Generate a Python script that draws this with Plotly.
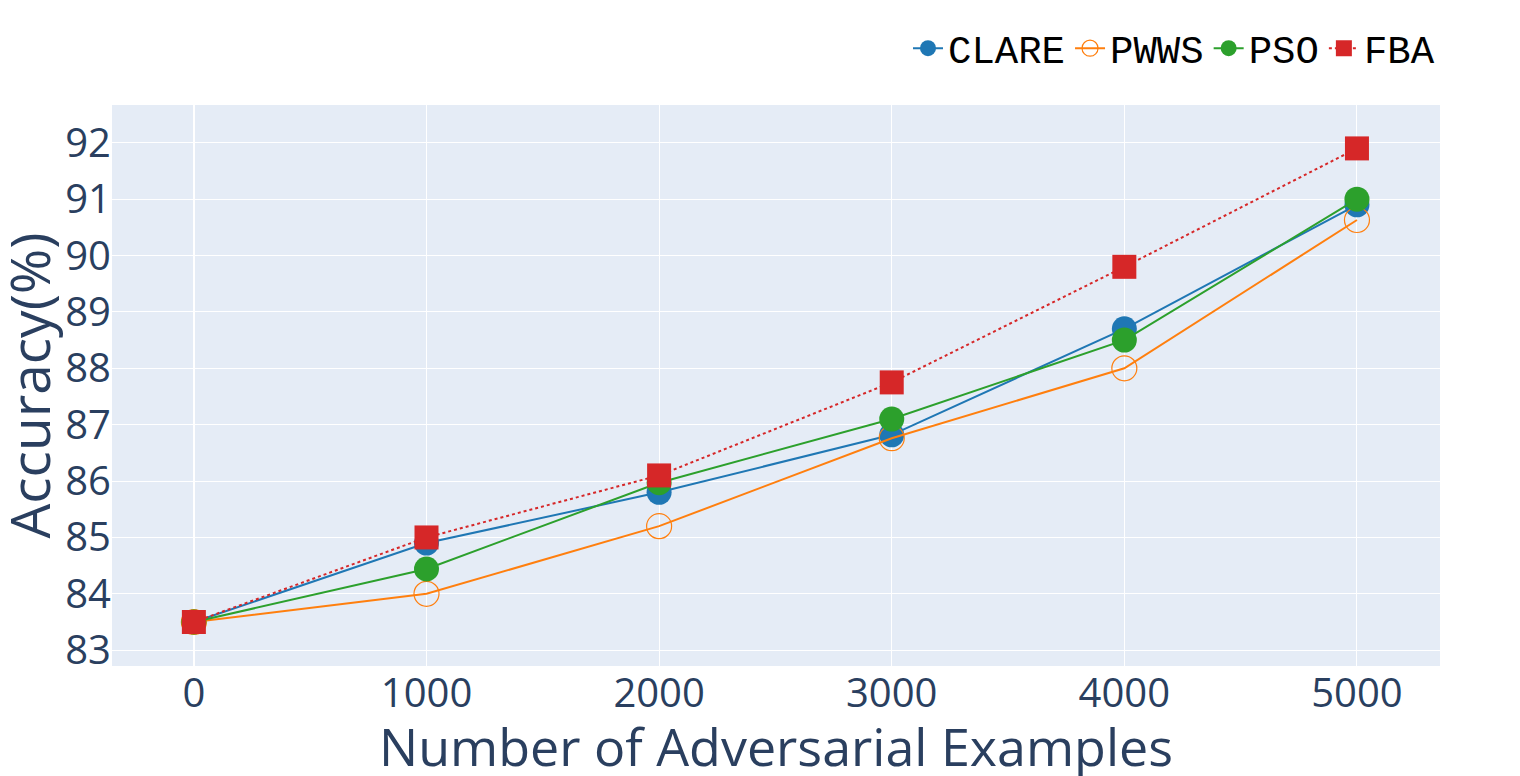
import plotly.graph_objects as go

x_vals = [0, 1000, 2000, 3000, 4000, 5000]
clare = [83.5, 84.9, 85.8, 86.82, 88.7, 90.9]
pwws = [83.5, 84.0, 85.2, 86.76, 88.0, 90.63]
pso = [83.5, 84.44, 85.97, 87.1, 88.5, 91.0]
fba = [83.5, 85.0, 86.1, 87.75, 89.8, 91.9]

fig = go.Figure()
fig.add_trace(go.Scatter(x=x_vals, y=clare, name="CLARE", mode="lines+markers",
                         line=dict(color="#1f77b4", width=2),
                         marker=dict(symbol="circle", size=25, color="#1f77b4")))
fig.add_trace(go.Scatter(x=x_vals, y=pwws, name="PWWS", mode="lines+markers",
                         line=dict(color="#ff7f0e", width=2),
                         marker=dict(symbol="circle-open", size=25, color="#ff7f0e", line=dict(width=1.2))))
fig.add_trace(go.Scatter(x=x_vals, y=pso, name="PSO", mode="lines+markers",
                         line=dict(color="#2ca02c", width=2),
                         marker=dict(symbol="circle", size=25, color="#2ca02c")))
fig.add_trace(go.Scatter(x=x_vals, y=fba, name="FBA", mode="lines+markers",
                         line=dict(color="#d62728", width=2, dash="dot"),
                         marker=dict(symbol="square", size=24, color="#d62728")))

fig.update_layout(
    width=1520, height=776,
    template="plotly",
    margin=dict(l=104, r=88, t=97, b=118),
    font=dict(family="Open Sans, sans-serif", color="#2a3f5f"),
    legend=dict(orientation="h", x=1, xanchor="right", yref="container", y=0.948, yanchor="middle",
                font=dict(family="Courier New, Liberation Mono, monospace", size=39, color="black"),
                bgcolor="rgba(0,0,0,0)"),
    xaxis=dict(tickfont=dict(size=40), tickvals=x_vals, range=[-352, 5357], automargin=False),
    yaxis=dict(tickfont=dict(size=40), dtick=1, range=[82.72, 92.67], automargin=False),
    annotations=[
        dict(text="Number of Adversarial Examples", xref="paper", yref="paper",
             x=0.5, y=0, xanchor="center", yanchor="middle", yshift=-79,
             showarrow=False, font=dict(size=52, color="#2a3f5f")),
        dict(text="Accuracy(%)", xref="paper", yref="paper", textangle=-90,
             x=0, y=0.5, xanchor="center", yanchor="middle", xshift=-84,
             showarrow=False, font=dict(size=55, color="#2a3f5f")),
    ],
)

fig.write_html("out.html")
